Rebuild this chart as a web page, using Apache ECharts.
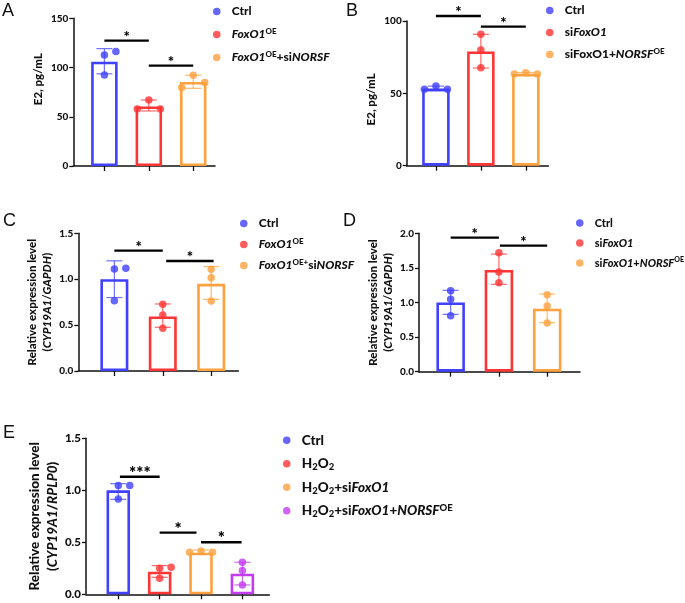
<!DOCTYPE html>
<html>
<head>
<meta charset="utf-8">
<script src="https://cdn.jsdelivr.net/npm/echarts@6/dist/echarts.min.js"></script>
<style>
html,body{margin:0;padding:0;background:#fff;}
#main{width:685px;height:603px;}
</style>
</head>
<body>
<div id="main"></div>
<script>
// ---- data ----
var aNames = ['Ctrl', '{i|FoxO1}{s|OE}', '{i|FoxO1}{s|OE}+si{i|NORSF}'];
var aMean = [106, 60.5, 85.3];
var aLo = [93.6, 55.9, 78.9];
var aHi = [119.2, 67, 92.1];
var aPts = [[92.4, 112.8, 116.2], [67, 57.9, 57.9], [92.1, 79.6, 84.7]];
var aJit = [[0, 0, 1], [0, -1, 1], [0, -1, 1]];
var aSig = [[0, 1, 127.3], [1, 2, 101.9]];
var aStars = ['*', '*'];

var bNames = ['Ctrl', 'si{i|FoxO1}', 'siFoxO1+{i|NORSF}{s|OE}'];
var bMean = [53.3, 79, 63.5];
var bLo = [51.8, 67.5, 62.6];
var bHi = [55, 90.8, 64.4];
var bPts = [[52.8, 55.1, 52.8], [90.8, 80, 67.7], [63.4, 64.3, 63.4]];
var bJit = [[-1, 0, 1], [0, 0, 0], [-1, 0, 1]];
var bSig = [[0, 1, 103.5], [1, 2, 96.1]];
var bStars = ['*', '*'];

var cNames = ['Ctrl', '{i|FoxO1}{s|OE}', '{i|FoxO1}{s|OE+}si{i|NORSF}'];
var cMean = [1.0, 0.595, 0.95];
var cLo = [0.80, 0.476, 0.78];
var cHi = [1.20, 0.73, 1.137];
var cPts = [[0.766, 1.111, 1.119], [0.726, 0.61, 0.465], [1.108, 1.017, 0.763]];
var cJit = [[0, 0, 1], [0, 0, 0], [0, 0, 0]];
var cSig = [[0, 1, 1.311], [1.07, 2.05, 1.199]];
var cStars = ['*', '*'];

var dNames = ['Ctrl', 'si{i|FoxO1}', 'si{i|FoxO1}+{i|NORSF}{s|OE}'];
var dMean = [1.0, 1.47, 0.91];
var dLo = [0.829, 1.263, 0.708];
var dHi = [1.176, 1.70, 1.123];
var dPts = [[1.171, 1.046, 0.81], [1.72, 1.44, 1.287], [1.113, 0.949, 0.703]];
var dJit = [[0, 0, 0], [0, 0, 0], [0, 0, 0]];
var dSig = [[0, 1, 1.937], [1.02, 2, 1.822]];
var dStars = ['*', '*'];

var eNames = ['Ctrl', 'H{sub|2}O{sub|2}', 'H{sub|2}O{sub|2}+si{i|FoxO1}', 'H{sub|2}O{sub|2}+si{i|FoxO1}+{i|NORSF}{s|OE}'];
var eMean = [1.0, 0.218, 0.40, 0.198];
var eLo = [0.913, 0.163, 0.385, 0.09];
var eHi = [1.064, 0.276, 0.426, 0.308];
var ePts = [[0.917, 1.045, 1.045], [0.154, 0.25, 0.26], [0.404, 0.417, 0.404], [0.308, 0.228, 0.09]];
var eJit = [[0, 0, 1], [0, 0, 1], [-1, 0, 1], [0, 0, 0]];
var eSig = [[0.04, 1, 1.131], [1, 1.89, 0.593], [2, 2.98, 0.5]];
var eStars = ['***', '*', '*'];

var colors = ['#4040ff', '#ff3535', '#ffa13f', '#c43cf0'];
var FONT = 'Lato';
var HEAVY = 900;

var myChart = echarts.init(document.getElementById('main'));

function richSet(size) {
    return {
        i: {fontStyle: 'italic', fontWeight: HEAVY, fontSize: size, fontFamily: FONT, color: '#111', lineHeight: size + 3},
        s: {fontWeight: HEAVY, fontSize: size - 4, fontFamily: FONT, color: '#111', verticalAlign: 'top', lineHeight: size + 3},
        sub: {fontWeight: HEAVY, fontSize: size - 4, fontFamily: FONT, color: '#111', verticalAlign: 'bottom', lineHeight: size + 3}
    };
}

var grids = [], xAxes = [], yAxes = [], series = [], legends = [];

function addPanel(p) {
    var k = grids.length;
    grids.push({left: p.grid[0], top: p.grid[1], width: p.grid[2], height: p.grid[3]});
    var ticks = [];
    for (var t = 0; t < p.mean.length; t++) ticks.push(t);
    xAxes.push({
        gridIndex: k, type: 'value', min: p.xr[0], max: p.xr[1],
        axisLine: {show: true, onZero: false, lineStyle: {color: '#111', width: 1.5}},
        axisTick: {show: true, customValues: ticks, length: 5, lineStyle: {color: '#111', width: 1.3}},
        axisLabel: {show: false}, splitLine: {show: false}
    });
    yAxes.push({
        gridIndex: k, type: 'value', min: 0, max: p.ymax, interval: p.step,
        name: p.yname, nameLocation: 'middle', nameGap: p.nameGap,
        nameTextStyle: {fontFamily: FONT, fontWeight: HEAVY, fontSize: p.nameSize, color: '#111',
            lineHeight: p.nameSize + 4, padding: p.namePad, rich: richSet(p.nameSize)},
        axisLine: {show: true, onZero: false, lineStyle: {color: '#111', width: 1.5}},
        axisTick: {show: true, length: 4, lineStyle: {color: '#111', width: 1.3}},
        axisLabel: {fontFamily: FONT, fontWeight: HEAVY, fontSize: p.tickSize, color: '#111', margin: 5,
            formatter: function (v) { return p.dec ? v.toFixed(1) : String(v); }},
        splitLine: {show: false}
    });
    // bars
    series.push({
        type: 'bar', xAxisIndex: k, yAxisIndex: k, barWidth: p.barW, z: 2,
        data: p.mean.map(function (m, i) {
            return {value: [i, m], itemStyle: {color: '#fff', borderColor: colors[i], borderWidth: 2.6}};
        }),
        silent: true
    });
    // error bars
    series.push({
        type: 'custom', xAxisIndex: k, yAxisIndex: k, z: 3, silent: true,
        data: p.mean.map(function (m, i) { return [i, p.lo[i], p.hi[i]]; }),
        renderItem: function (params, api) {
            var i = params.dataIndex;
            var lo = api.coord([api.value(0), api.value(1)]);
            var hi = api.coord([api.value(0), api.value(2)]);
            var st = {stroke: colors[i], lineWidth: 1.2, opacity: 0.75};
            return {type: 'group', children: [
                {type: 'line', shape: {x1: lo[0], y1: lo[1], x2: hi[0], y2: hi[1]}, style: st},
                {type: 'line', shape: {x1: lo[0] - 8, y1: lo[1], x2: lo[0] + 8, y2: lo[1]}, style: st},
                {type: 'line', shape: {x1: hi[0] - 8, y1: hi[1], x2: hi[0] + 8, y2: hi[1]}, style: st}
            ]};
        }
    });
    // dots, one series per group so the legend can use them
    var legendData = [];
    p.pts.forEach(function (arr, i) {
        var nm = p.id + i;
        legendData.push(nm);
        series.push({
            type: 'scatter', name: nm, xAxisIndex: k, yAxisIndex: k, z: 4,
            symbol: 'circle', symbolSize: 7.5,
            itemStyle: {color: colors[i]},
            data: arr.map(function (v, j) {
                return {value: [i, v], symbolOffset: [p.jit[i][j] * 11.5, 0]};
            })
        });
    });
    // significance lines
    series.push({
        type: 'custom', xAxisIndex: k, yAxisIndex: k, z: 5, silent: true, clip: false,
        data: p.sig,
        renderItem: function (params, api) {
            var a = api.coord([api.value(0), api.value(2)]);
            var b = api.coord([api.value(1), api.value(2)]);
            return {type: 'group', children: [
                {type: 'line', shape: {x1: a[0], y1: a[1], x2: b[0], y2: b[1]}, style: {stroke: '#000', lineWidth: 2.4}},
                {type: 'text', x: (a[0] + b[0]) / 2, y: a[1] + p.starDy,
                    style: {text: p.stars[params.dataIndex], fill: '#000', fontFamily: FONT, fontWeight: HEAVY,
                        fontSize: p.starSize, align: 'center', verticalAlign: 'bottom'}}
            ]};
        }
    });
    legends.push({
        data: legendData, orient: 'vertical', left: p.leg[0], top: p.leg[1], itemGap: p.leg[2],
        icon: 'circle', itemWidth: 20, itemHeight: 7.5, selectedMode: false,
        formatter: function (nm) { return p.names[+nm.slice(p.id.length)]; },
        textStyle: {fontFamily: FONT, fontWeight: HEAVY, fontSize: p.legSize, color: '#111',
            lineHeight: p.legSize + 3, rich: richSet(p.legSize)}
    });
}

addPanel({id: 'A', grid: [73.3, 18.3, 141.7, 147.7], xr: [-0.7, 2.49], ymax: 150, step: 50, dec: false,
    yname: 'E2, pg/mL', nameGap: 27, nameSize: 11.5, namePad: [0, 0, 0, 26], tickSize: 10, barW: 26.5,
    mean: aMean, lo: aLo, hi: aHi, pts: aPts, jit: aJit, sig: aSig, stars: aStars, starDy: 4, starSize: 15,
    names: aNames, leg: [208, -1, 8], legSize: 12});
addPanel({id: 'B', grid: [406.7, 21, 141.6, 144.7], xr: [-0.65, 2.5], ymax: 100, step: 50, dec: false,
    yname: 'E2, pg/mL', nameGap: 28, nameSize: 11.5, namePad: [0, 12, 0, 0], tickSize: 10, barW: 27.5,
    mean: bMean, lo: bLo, hi: bHi, pts: bPts, jit: bJit, sig: bSig, stars: bStars, starDy: 4, starSize: 15,
    names: bNames, leg: [541, -2, 7], legSize: 12});
addPanel({id: 'C', grid: [78.3, 233.3, 160, 137.7], xr: [-0.745, 2.56], ymax: 1.5, step: 0.5, dec: true,
    yname: 'Relative expression level\n({i|CYP19A1}/{i|GAPDH})', nameGap: 18, nameSize: 11.5, namePad: 0, tickSize: 10, barW: 28,
    mean: cMean, lo: cLo, hi: cHi, pts: cPts, jit: cJit, sig: cSig, stars: cStars, starDy: 4, starSize: 15,
    names: cNames, leg: [235, 211, 6], legSize: 12});
addPanel({id: 'D', grid: [419, 233.3, 161, 138.4], xr: [-0.656, 2.68], ymax: 2, step: 0.5, dec: true,
    yname: 'Relative expression level\n({i|CYP19A1}/{i|GAPDH})', nameGap: 21, nameSize: 11.5, namePad: 0, tickSize: 10, barW: 28.5,
    mean: dMean, lo: dLo, hi: dHi, pts: dPts, jit: dJit, sig: dSig, stars: dStars, starDy: 4, starSize: 15,
    names: dNames, leg: [571, 211, 6], legSize: 11});
addPanel({id: 'E', grid: [86, 438.3, 183.3, 156], xr: [-0.78, 3.65], ymax: 1.5, step: 0.5, dec: true,
    yname: 'Relative expression level\n({i|CYP19A1}/{i|RPLP0})', nameGap: 17, nameSize: 13.5, namePad: 0, tickSize: 11.5, barW: 23.5,
    mean: eMean, lo: eLo, hi: eHi, pts: ePts, jit: eJit, sig: eSig, stars: eStars, starDy: 5, starSize: 17,
    names: eNames, leg: [278, 427, 7], legSize: 13.5});

var letters = [['A', 2, 2], ['B', 346, 2], ['C', 3, 212], ['D', 343, 212], ['E', 3, 424]];

myChart.setOption({
    backgroundColor: '#fff',
    animation: false,
    grid: grids,
    xAxis: xAxes,
    yAxis: yAxes,
    legend: legends,
    series: series,
    graphic: letters.map(function (l) {
        return {type: 'text', left: l[1], top: l[2],
            style: {text: l[0], fontFamily: 'Liberation Sans', fontSize: 18, fill: '#111'}};
    })
});
</script>
</body>
</html>
